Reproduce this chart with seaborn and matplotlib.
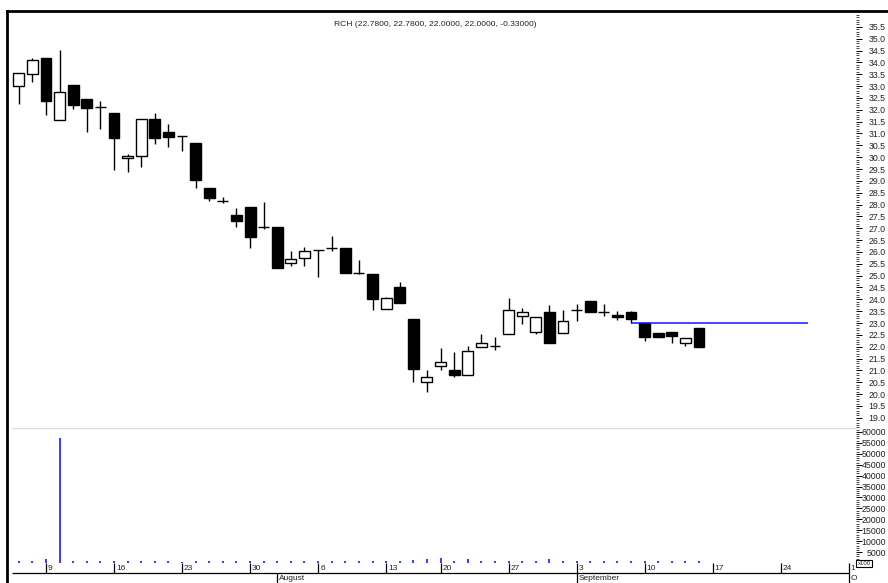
import numpy as np
import matplotlib
matplotlib.use("Agg")
import matplotlib.pyplot as plt
import seaborn as sns
from matplotlib.ticker import FixedLocator, FuncFormatter

# ------------------------------------------------------------
# RCH daily candles, 5 Jul - 14 Sep (one entry per trading day)
# ------------------------------------------------------------
title = "RCH (22.7800, 22.7800, 22.0000, 22.0000, -0.33000)"

opens = [33.01, 33.53, 34.18, 31.58, 33.04, 32.47, 32.10, 31.87, 29.96, 30.06,
         31.62, 31.07, 30.89, 30.59, 28.68, 28.17, 27.57, 27.88, 27.07, 27.06,
         25.53, 25.74, 26.09, 26.16, 26.15, 25.13, 25.05, 23.61, 24.50, 23.17,
         20.53, 21.18, 21.03, 20.82, 21.97, 22.04, 22.53, 23.28, 22.64, 23.45,
         22.58, 23.56, 23.91, 23.46, 23.36, 23.46, 23.02, 22.58, 22.64, 22.15,
         22.78]
highs = [33.57, 34.19, 34.20, 34.53, 33.04, 32.47, 32.35, 31.87, 30.14, 31.62,
         31.87, 31.38, 30.89, 30.59, 28.68, 28.34, 27.85, 27.88, 28.10, 27.06,
         26.06, 26.20, 26.09, 26.68, 26.15, 25.64, 25.05, 24.10, 24.73, 23.17,
         21.03, 21.94, 21.76, 22.04, 22.53, 22.43, 24.05, 23.63, 23.25, 23.77,
         23.53, 23.80, 23.91, 23.81, 23.52, 23.52, 23.02, 22.58, 22.64, 22.36,
         22.78]
lows = [32.25, 33.18, 31.76, 31.58, 32.05, 31.06, 31.18, 29.44, 29.38, 29.58,
        30.56, 30.45, 30.28, 28.68, 28.17, 28.06, 27.07, 26.16, 26.96, 25.32,
        25.42, 25.42, 24.96, 26.06, 25.12, 25.08, 23.56, 23.61, 23.84, 20.53,
        20.07, 21.03, 20.72, 20.82, 21.97, 21.87, 22.53, 22.96, 22.53, 22.15,
        22.58, 23.09, 23.45, 23.31, 23.14, 23.02, 22.26, 22.39, 22.15, 22.01,
        22.00]
closes = [33.57, 34.08, 32.35, 32.73, 32.20, 32.08, 32.10, 30.79, 30.07, 31.62,
          30.83, 30.87, 30.89, 29.04, 28.26, 28.17, 27.31, 26.63, 27.07, 25.32,
          25.72, 26.05, 26.09, 26.16, 25.12, 25.13, 24.01, 24.05, 23.84, 21.06,
          20.73, 21.35, 20.82, 21.83, 22.15, 22.04, 23.56, 23.45, 23.25, 22.15,
          23.09, 23.56, 23.45, 23.46, 23.25, 23.17, 22.39, 22.39, 22.46, 22.36,
          22.00]
# volume in hundreds
volumes = [760, 760, 1670, 57200, 770, 770, 1080, 770, 770, 770,
           770, 770, 600, 770, 770, 770, 770, 770, 770, 770,
           770, 770, 920, 770, 1080, 770, 770, 920, 770, 1540,
           2000, 2300, 770, 1690, 920, 1080, 770, 1080, 920, 1690,
           770, 1080, 770, 770, 920, 920, 770, 770, 920, 770,
           770]

level_price = 23.0
level_from, level_to = 45, 58

week_ticks = [2, 7, 12, 17, 22, 27, 31, 36, 41, 46, 51, 56, 61]
week_labels = ["9", "16", "23", "30", "6", "13", "20", "27", "3", "10", "17", "24", "1"]
month_ticks = [19, 41, 61]
month_labels = ["August", "September", "O"]

price_ticks = np.arange(19.0, 35.51, 0.5)
vol_ticks = np.arange(5000, 60001, 5000)

# ------------------------------------------------------------
sns.set_theme(style="white")
plt.rcParams['font.family'] = ['Liberation Sans', 'DejaVu Sans']

W, H = 888, 583
fig = plt.figure(figsize=(W / 100, H / 100), dpi=100)


def box(x0, y0, x1, y1):
    # pixel rectangle (top-left origin) -> figure fraction
    return [x0 / W, 1 - y1 / H, (x1 - x0) / W, (y1 - y0) / H]


frame = fig.add_axes(box(6.5, 10.5, W + 5, H + 5))
frame.set_xticks([])
frame.set_yticks([])
frame.patch.set_alpha(0)
for s in ['right', 'bottom']:
    frame.spines[s].set_visible(False)
for s in ['left', 'top']:
    frame.spines[s].set_linewidth(2.0)
    frame.spines[s].set_color('black')

ax = fig.add_axes(box(12, 15, 856, 428))
ax_vol = fig.add_axes(box(12, 428, 856, 563))
ax_date = fig.add_axes(box(12, 563, 856, 583))
for a in (ax, ax_vol, ax_date):
    a.patch.set_alpha(0)
    a.set_xlim(-0.5, 61.54)
    for s in a.spines.values():
        s.set_visible(False)
    a.set_xticks([])

# candles
x = np.arange(len(opens))
o, h, l, c = (np.array(v) for v in (opens, highs, lows, closes))
body_lo = np.minimum(o, c)
body_hi = np.maximum(o, c)
ax.vlines(x, l, body_lo, color='black', lw=1.0, zorder=2)
ax.vlines(x, body_hi, h, color='black', lw=1.0, zorder=2)
ax.bar(x, body_hi - body_lo, bottom=body_lo, width=0.8,
       color=np.where(c >= o, 'white', 'black'), edgecolor='black',
       linewidth=1.0, zorder=3)
ax.hlines(level_price, level_from, level_to, color='#1414ff', lw=1.1, zorder=4)

ax.set_ylim(18.57, 36.0)
ax.yaxis.tick_right()
ax.yaxis.set_major_locator(FixedLocator(price_ticks))
ax.yaxis.set_minor_locator(FixedLocator(np.arange(18.6, 36.01, 0.1)))
ax.yaxis.set_major_formatter(FuncFormatter(lambda v, p: f"{v:.1f}"))
ax.tick_params(axis='y', which='major', right=True, left=False, direction='out',
               length=4, width=0.7, colors='black', labelsize=6.3, pad=17.5)
ax.tick_params(axis='y', which='minor', right=True, left=False, direction='out',
               length=2, width=0.5, colors='black')
plt.setp(ax.get_yticklabels(), ha='right', color='#222222')

# volume
ax_vol.vlines(x, 0, volumes, color='#1a1aff', lw=1.2)
ax_vol.set_ylim(0, 61800)
ax_vol.spines['top'].set_visible(True)
ax_vol.spines['top'].set_color('#dddddd')
ax_vol.spines['top'].set_linewidth(0.9)
ax_vol.yaxis.tick_right()
ax_vol.yaxis.set_major_locator(FixedLocator(vol_ticks))
ax_vol.yaxis.set_minor_locator(FixedLocator(np.arange(1000, 61001, 1000)))
ax_vol.yaxis.set_major_formatter(FuncFormatter(lambda v, p: f"{v:.0f}"))
ax_vol.tick_params(axis='y', which='major', right=True, left=False, direction='out',
                   length=4, width=0.7, colors='black', labelsize=6.3, pad=17.5)
ax_vol.tick_params(axis='y', which='minor', right=True, left=False, direction='out',
                   length=2, width=0.5, colors='black')
plt.setp(ax_vol.get_yticklabels(), ha='right', color='#222222')
ax_vol.text(1.002, -0.005, "x100", transform=ax_vol.transAxes, ha='left', va='center',
            fontsize=4.3, color='#222222',
            bbox=dict(boxstyle='square,pad=0.2', fc='white', ec='black', lw=0.8))

# date strip
ax_date.set_ylim(0, 1)
ax_date.set_yticks([])
ax_date.hlines(0.5, -0.5, 61, color='black', lw=0.9)
ax_date.vlines(week_ticks, 0.5, 1, color='black', lw=0.9)
ax_date.vlines(month_ticks, 0, 0.5, color='black', lw=0.9)
for t, lab in zip(week_ticks, week_labels):
    ax_date.text(t + 0.15, 0.74, lab, ha='left', va='center', fontsize=6, color='#222222')
for t, lab in zip(month_ticks, month_labels):
    ax_date.text(t + 0.15, 0.24, lab, ha='left', va='center', fontsize=6, color='#222222')

fig.text(435 / W, 1 - 24 / H, title, ha='center', va='center', fontsize=6.1, color='#222222')

fig.savefig("out.png", dpi=100)
